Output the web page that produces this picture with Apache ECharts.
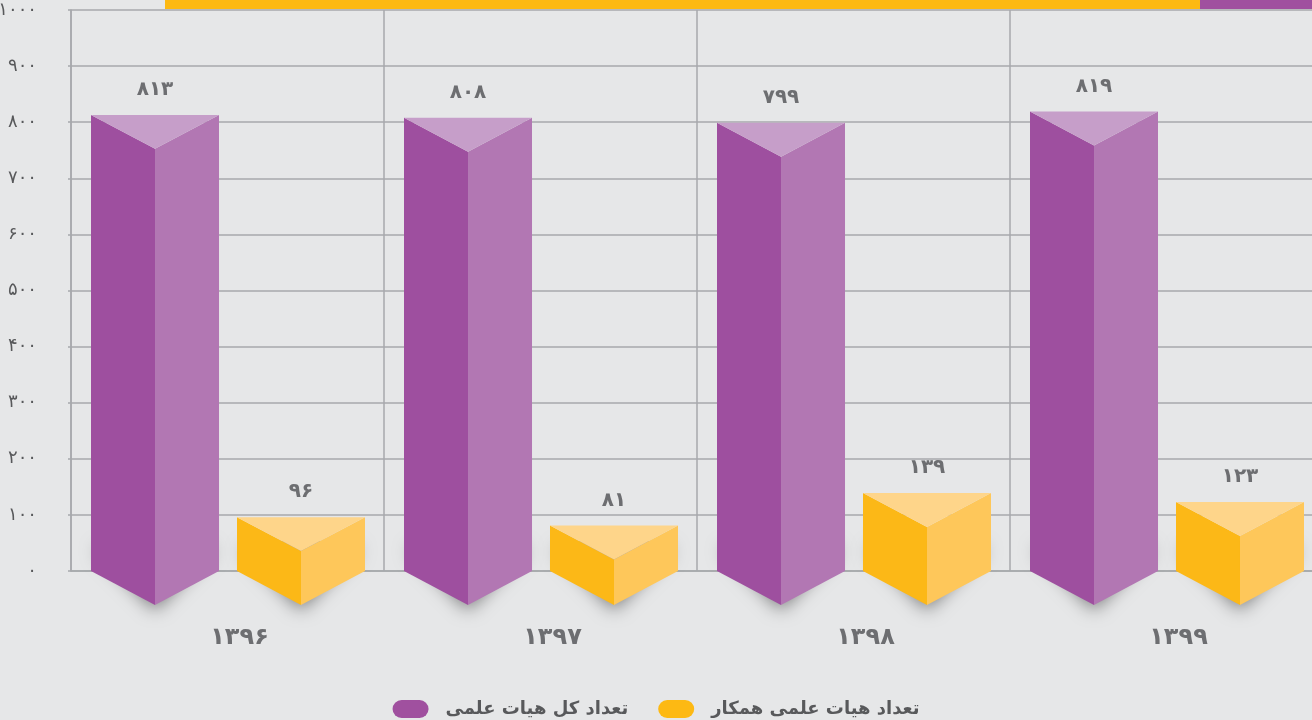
<!DOCTYPE html>
<html>
<head>
<meta charset="utf-8">
<script src="https://cdn.jsdelivr.net/npm/echarts@6/dist/echarts.min.js"></script>
<style>
  html, body { margin: 0; padding: 0; background: #e6e7e8; }
  #main { width: 1312px; height: 720px; }
</style>
</head>
<body>
<div id="main"></div>
<script>
// سال ها
const years = ['1396', '1397', '1398', '1399'];
// تعداد کل هیات علمی
const totalFaculty = [813, 808, 799, 819];
// تعداد هیات علمی همکار
const associateFaculty = [96, 81, 139, 123];

const seriesNames = ['تعداد کل هیات علمی', 'تعداد هیات علمی همکار'];

const FONT = '"DejaVu Sans", "Liberation Sans", sans-serif';

function fa(n) {
  return String(n).replace(/[0-9]/g, function (d) { return '۰۱۲۳۴۵۶۷۸۹'[d]; });
}

// منشور سه بعدی
function prism(offsetRatio, colors) {
  return function (params, api) {
    const band = api.size([1, 0])[0];
    const w = band * 0.409;
    const top = api.coord([api.value(0), api.value(1)]);
    const base = api.coord([api.value(0), 0]);
    const xC = top[0] + band * offsetRatio;
    const xL = xC - w / 2, xR = xC + w / 2;
    const yT = top[1], yB = base[1];
    const d = w * 0.265;
    return {
      type: 'group',
      children: [
        {
          type: 'polygon',
          shape: { points: [[xL + 4, yB - 30], [xC, yB + d - 3], [xR - 4, yB - 30]] },
          style: { fill: '#999', shadowBlur: 18, shadowColor: 'rgba(0,0,0,0.5)', shadowOffsetY: 8 }
        },
        {
          type: 'polygon',
          shape: { points: [[xL, yT], [xC, yT + d], [xC, yB + d], [xL, yB]] },
          style: { fill: colors[0] }
        },
        {
          type: 'polygon',
          shape: { points: [[xC, yT + d], [xR, yT], [xR, yB], [xC, yB + d]] },
          style: { fill: colors[1] }
        },
        {
          type: 'polygon',
          shape: { points: [[xL, yT], [xR, yT], [xC, yT + d]] },
          style: { fill: colors[2] }
        },
        {
          type: 'text',
          style: {
            text: fa(api.value(1)),
            x: xC, y: yT - 25,
            align: 'center', verticalAlign: 'middle',
            fontSize: 20, fontWeight: 'bold', fontFamily: FONT,
            fill: '#6d6e71'
          }
        }
      ]
    };
  };
}

const chart = echarts.init(document.getElementById('main'), null, { renderer: 'canvas' });

const option = {
  backgroundColor: '#e6e7e8',
  animation: false,
  grid: { left: 71, top: 10, right: -11, bottom: 149, outerBoundsMode: 'none', containLabel: false },
  graphic: [
    { type: 'rect', shape: { x: 165, y: 0, width: 1035, height: 9 }, style: { fill: '#fdb913' }, z: 10 },
    { type: 'rect', shape: { x: 1200, y: 0, width: 112, height: 9 }, style: { fill: '#a0509f' }, z: 10 }
  ],
  legend: {
    left: 'center',
    top: 700,
    padding: 0,
    itemWidth: 36,
    itemHeight: 19,
    itemGap: 30,
    icon: 'path://M10,0 H30 A10,10 0 0 1 30,20 H10 A10,10 0 0 1 10,0 Z',
    textStyle: { fontSize: 18, fontWeight: 'bold', color: '#58595b', fontFamily: FONT, padding: [0, 0, 0, 12] },
    data: seriesNames
  },
  xAxis: {
    type: 'category',
    data: years,
    axisLine: { show: true, lineStyle: { color: '#a7a9ac', width: 1.5 } },
    axisTick: { show: false },
    axisLabel: {
      formatter: fa,
      margin: 55,
      fontSize: 24,
      fontWeight: 'bold',
      color: '#6d6e71',
      fontFamily: FONT,
      padding: [0, 0, 0, 24]
    },
    splitLine: { show: true, lineStyle: { color: '#a7a9ac', width: 1.5 } }
  },
  yAxis: {
    type: 'value',
    min: 0,
    max: 1000,
    interval: 100,
    axisLine: { show: true, lineStyle: { color: '#a7a9ac', width: 1.5 } },
    axisTick: { show: true, length: 3, lineStyle: { color: '#a7a9ac', width: 1.5 } },
    axisLabel: { formatter: fa, margin: 34, fontSize: 18, color: '#58595b', fontFamily: FONT },
    splitLine: { show: true, lineStyle: { color: '#a7a9ac', width: 1.5 } }
  },
  series: [
    {
      name: seriesNames[0],
      type: 'custom',
      itemStyle: { color: '#a0509f' },
      renderItem: prism(-0.2316, ['#9e4f9f', '#b277b3', '#c69ec9']),
      data: totalFaculty.map(function (v, i) { return [i, v]; }),
      z: 3
    },
    {
      name: seriesNames[1],
      type: 'custom',
      itemStyle: { color: '#fdb913' },
      renderItem: prism(0.2348, ['#fcb817', '#fec75a', '#fed58a']),
      data: associateFaculty.map(function (v, i) { return [i, v]; }),
      z: 3
    }
  ]
};

chart.setOption(option);
</script>
</body>
</html>
